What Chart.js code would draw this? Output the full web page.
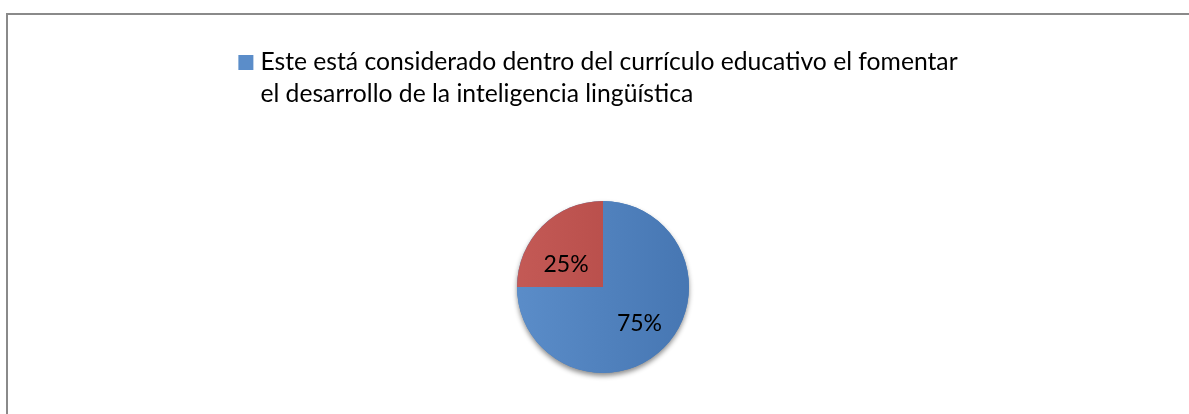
<!DOCTYPE html>
<html>
<head>
<meta charset="utf-8">
<script src="https://cdn.jsdelivr.net/npm/chart.js@4/dist/chart.umd.min.js"></script>
<style>
  body { margin: 0; background: #fff; overflow: hidden; }
  #marco {
    position: absolute; left: 6px; top: 13px;
    width: 1190px; height: 410px;
    border-left: 2px solid #8a8a8a; border-top: 2px solid #8a8a8a;
  }
</style>
</head>
<body>
<div id="marco"><canvas id="grafico"></canvas></div>
<script>
// datos del grafico
const categorias = ['Este está considerado dentro del currículo educativo el fomentar el desarrollo de la inteligencia lingüística', 'No'];
const valores = [75, 25];
const etiquetas = ['75%', '25%'];
// texto de la leyenda (solo aparece la primera categoria)
const leyendaLineas = ['Este está considerado dentro del currículo educativo el fomentar', 'el desarrollo de la inteligencia lingüística'];

const colores = [['#5b8dc9', '#4676b2'], ['#c45a56', '#b04643']];
const FUENTE = 'Lato, "Open Sans", sans-serif';

// degradado suave como el de office
function fondo(ctx) {
  const chart = ctx.chart;
  const a = chart.chartArea;
  const par = colores[ctx.dataIndex];
  if (!a) return par[0];
  const cx = (a.left + a.right) / 2;
  const g = chart.ctx.createLinearGradient(cx - 90, 0, cx + 90, 0);
  g.addColorStop(0, par[0]);
  g.addColorStop(1, par[1]);
  return g;
}

// sombra debajo del pastel
const sombra = {
  id: 'sombra',
  beforeDatasetsDraw(chart) {
    const arc = chart.getDatasetMeta(0).data[0];
    if (!arc) return;
    const ctx = chart.ctx;
    ctx.save();
    ctx.shadowColor = 'rgba(0,0,0,0.45)';
    ctx.shadowBlur = 5;
    ctx.shadowOffsetY = 3;
    ctx.fillStyle = '#4a7ab5';
    ctx.beginPath();
    ctx.arc(arc.x, arc.y, arc.outerRadius, 0, Math.PI * 2);
    ctx.fill();
    ctx.restore();
  }
};

// porcentajes dentro de cada porcion
const distEtiqueta = [0.6, 0.5];
const giroEtiqueta = [0, -0.25]; // en radianes, para acercarse a office
const rotulos = {
  id: 'rotulos',
  afterDatasetsDraw(chart) {
    const ctx = chart.ctx;
    ctx.save();
    ctx.font = '23px ' + FUENTE;
    ctx.fillStyle = '#000';
    ctx.textAlign = 'center';
    ctx.textBaseline = 'middle';
    chart.getDatasetMeta(0).data.forEach((arc, i) => {
      const ang = (arc.startAngle + arc.endAngle) / 2 + giroEtiqueta[i];
      const r = arc.outerRadius * distEtiqueta[i];
      ctx.fillText(etiquetas[i], arc.x + Math.cos(ang) * r, arc.y + Math.sin(ang) * r);
    });
    ctx.restore();
  }
};

// leyenda de dos lineas arriba
const leyenda = {
  id: 'leyenda',
  afterDraw(chart) {
    const ctx = chart.ctx;
    ctx.save();
    ctx.font = '24.7px ' + FUENTE;
    const ancho = Math.max(...leyendaLineas.map(l => ctx.measureText(l).width));
    const caja = 15, hueco = 7;
    const x0 = chart.width / 2 - 5 - (caja + hueco + ancho) / 2;
    ctx.fillStyle = colores[0][0];
    ctx.fillRect(x0, 40, caja, caja);
    ctx.fillStyle = '#000';
    ctx.textBaseline = 'alphabetic';
    leyendaLineas.forEach((l, i) => ctx.fillText(l, x0 + caja + hueco, 55 + i * 31.7));
    ctx.restore();
  }
};

new Chart(document.getElementById('grafico'), {
  type: 'pie',
  data: {
    labels: categorias,
    datasets: [{
      data: valores,
      backgroundColor: fondo,
      borderWidth: 0
    }]
  },
  options: {
    responsive: true,
    maintainAspectRatio: false,
    animation: false,
    radius: 86,
    layout: { padding: { top: 150, bottom: 16 } },
    plugins: {
      legend: { display: false },
      tooltip: { enabled: false }
    }
  },
  plugins: [sombra, rotulos, leyenda]
});
</script>
</body>
</html>
